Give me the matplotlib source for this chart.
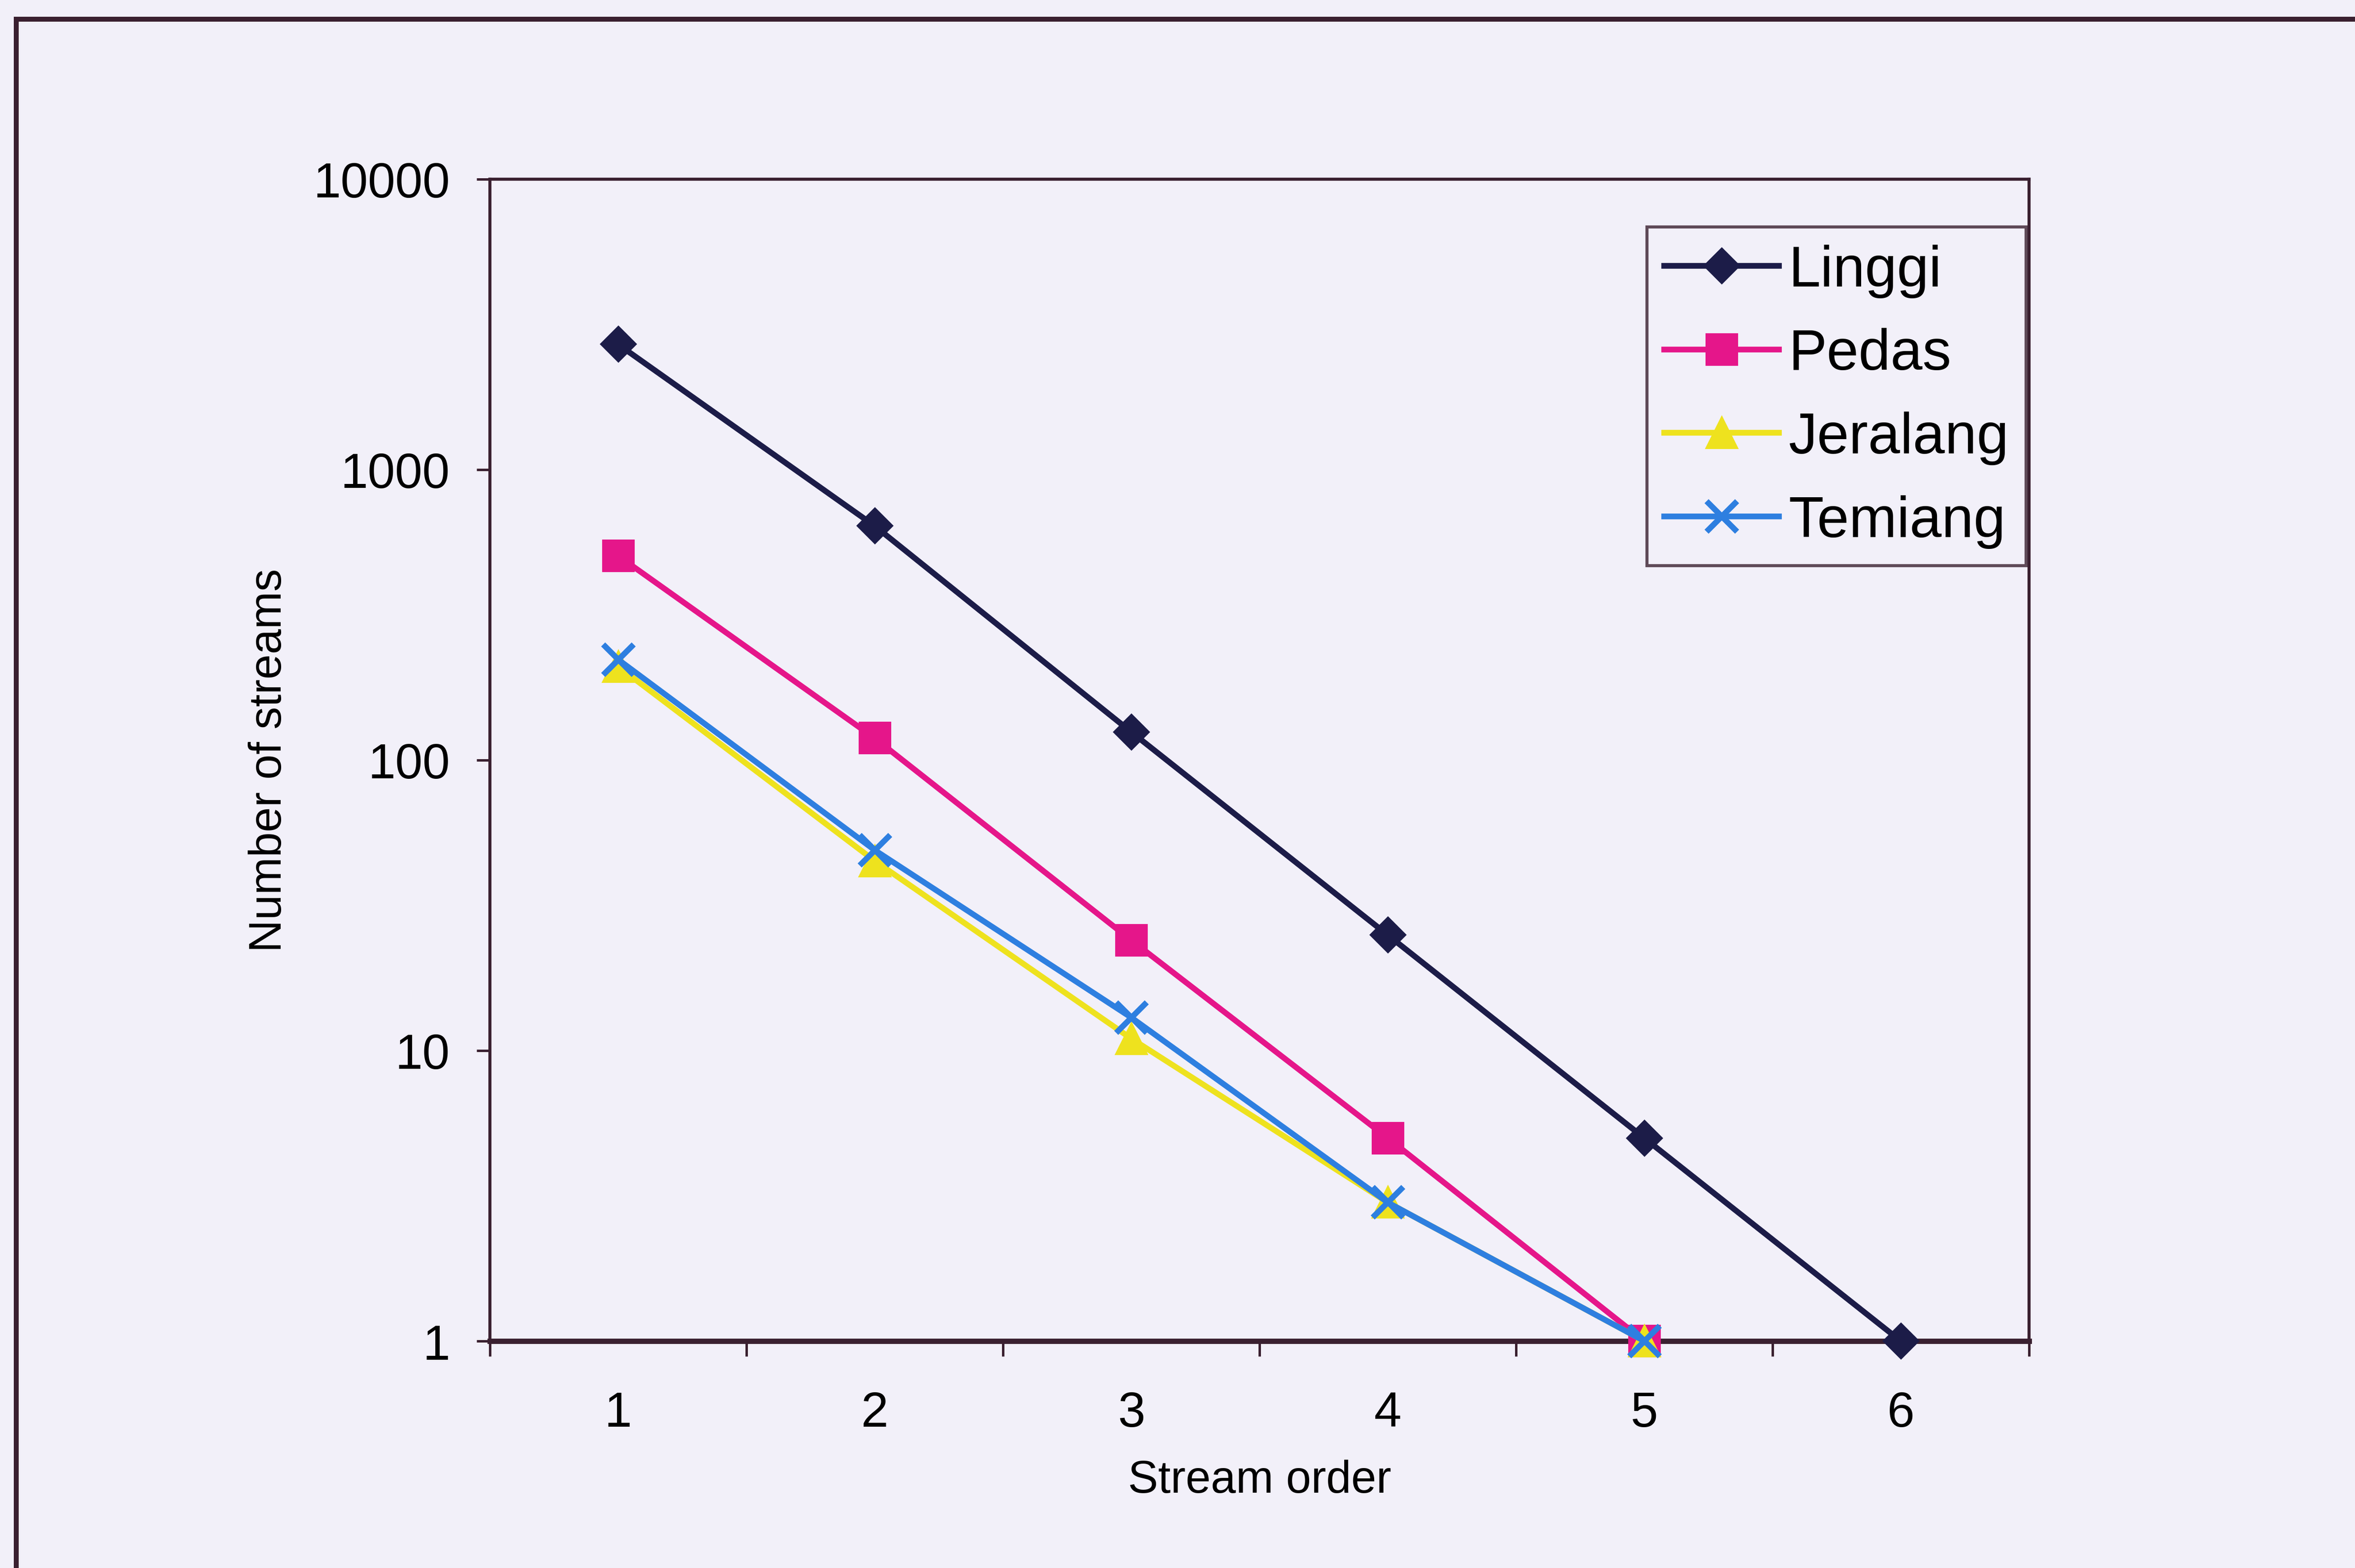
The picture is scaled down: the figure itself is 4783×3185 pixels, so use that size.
import matplotlib
matplotlib.use("Agg")
import matplotlib.pyplot as plt
from matplotlib.lines import Line2D
import numpy as np

# --- data ---
stream_order = [1, 2, 3, 4, 5, 6]
linggi = [2700, 640, 125, 25, 5, 1]
pedas = [505, 119, 24, 5, 1]
jeralang = [210, 45, 11, 3, 1]
temiang = [222, 49, 13, 3, 1]
y_ticks = [1, 10, 100, 1000, 10000]

bg = "#f2f0f9"
frame = "#3a2030"

plt.rcParams['font.family'] = ['Liberation Sans', 'DejaVu Sans']

W, H, DPI = 4783, 3186, 300
fig = plt.figure(figsize=(W / DPI, H / DPI), dpi=DPI, facecolor=bg)

# outer chart frame (only top and left visible, the rest is cut off)
fig.add_artist(Line2D([33 / W, 33 / W], [0, 1 - 40 / H], color=frame, lw=2.4,
                      transform=fig.transFigure))
fig.add_artist(Line2D([33 / W, 1], [1 - 40 / H, 1 - 40 / H], color=frame, lw=2.4,
                      transform=fig.transFigure))

left, right, top, bottom = 995 / W, 4121 / W, 365 / H, 2725 / H
ax = fig.add_axes([left, 1 - bottom, right - left, bottom - top])
ax.set_facecolor(bg)

series = [
    ("Linggi", linggi, "#1c1c48", "D", 12, {}),
    ("Pedas", pedas, "#e5168a", "s", 15, {}),
    ("Jeralang", jeralang, "#eee21e", "^", 15, {}),
    ("Temiang", temiang, "#2e7fe0", "x", 15, {"markeredgewidth": 2.8}),
]
for name, vals, col, mk, ms, extra in series:
    ax.plot(stream_order[:len(vals)], vals, color=col, lw=2.8, marker=mk,
            markersize=ms, markerfacecolor=col, markeredgecolor=col,
            label=name, clip_on=False, zorder=3, **extra)

ax.set_yscale("log")
ax.set_ylim(1, 10000)
ax.set_yticks(y_ticks)
ax.set_yticklabels([str(v) for v in y_ticks])
ax.yaxis.set_minor_locator(matplotlib.ticker.NullLocator())
ax.set_xlim(0.5, 6.5)

# Excel-style category axis: ticks between categories, labels centred
ax.set_xticks(np.arange(0.5, 7, 1.0))
ax.set_xticklabels([])
ax.set_xticks(stream_order, minor=True)
ax.set_xticklabels([str(s) for s in stream_order], minor=True)
ax.tick_params(axis="x", which="major", direction="out", length=7.5, width=1.2,
               color=frame)
ax.tick_params(axis="x", which="minor", length=0, pad=24, labelsize=24)
ax.tick_params(axis="y", which="major", direction="out", length=6.5, width=1.2,
               color=frame, pad=13, labelsize=24)

for side in ["top", "right", "left"]:
    ax.spines[side].set_color(frame)
    ax.spines[side].set_linewidth(1.5)
ax.spines["bottom"].set_color(frame)
ax.spines["bottom"].set_linewidth(2.6)

ax.set_xlabel("Stream order", fontsize=22, labelpad=11)
ax.set_ylabel("Number of streams", fontsize=22, labelpad=11)

leg = ax.legend(loc="upper right", bbox_to_anchor=(0.998, 0.959), borderaxespad=0,
                fontsize=28, frameon=True, fancybox=False, handlelength=2.0,
                handletextpad=0.16, labelspacing=0.52, borderpad=0.3,
                markerscale=1.0)
leg.get_frame().set_edgecolor(frame)
leg.get_frame().set_facecolor(bg)
leg.get_frame().set_linewidth(1.5)

fig.savefig("out.png", dpi=DPI, facecolor=bg)
